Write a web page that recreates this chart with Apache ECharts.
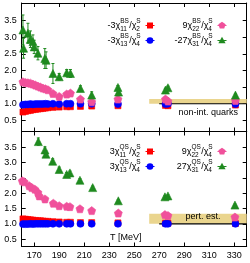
<!DOCTYPE html>
<html><head><meta charset="utf-8">
<script src="https://cdn.jsdelivr.net/npm/echarts@6/dist/echarts.min.js"></script>
<style>html,body{margin:0;padding:0;background:#fff}#c{width:250px;height:263px}</style>
</head><body><div id="c"></div>
<script>
// ---------- data ----------
const xTicks = [170,190,210,230,250,270,290,310,330];
const yTicks = [0.5,1.0,1.5,2.0,2.5,3.0,3.5];

// top panel (BS)
const bsT = [161,163,165,167,169,171,173,175,177,179,181,185,190,196,199,207,216,237,275,277,331];
const bsRed  = [0.75,0.77,0.79,0.80,0.82,0.83,0.84,0.85,0.86,0.87,0.88,0.89,0.90,0.91,0.91,0.92,0.93,0.94,0.95,0.94,0.96];
const bsBlue = [0.97,0.98,0.98,0.99,0.98,0.99,0.99,0.99,0.99,1.00,0.99,1.00,0.99,1.00,1.00,1.00,1.00,0.99,0.99,1.00,0.99];
const bsPink = [1.66,1.64,1.63,1.62,1.59,1.56,1.53,1.50,1.47,1.45,1.42,1.31,1.22,1.29,1.32,1.14,1.06,1.14,1.14,1.08,1.10];
const bsPinkErr = [0.06,0.06,0.05,0.05,0.05,0.05,0.06,0.08,0.05,0.05,0.05,0.04,0.04,0.04,0.04,0.03,0.03,0.03,0.03,0.03,0.03];
const bsGreenT = [161,161.5,165,167,169,170,173,178.5,179.5,185,190,196,199,207,216,237,237.5,275,277,331];
const bsGreen  = [3.22,2.67,3.12,2.94,2.87,2.71,2.52,2.36,2.31,1.91,1.81,1.93,1.91,1.46,1.26,1.49,1.35,1.41,1.48,1.26];
const bsGreenErr = [0.45,0.30,0.30,0.25,0.20,0.20,0.20,0.30,0.25,0.30,0.10,0.10,0.12,0.08,0.10,0.06,0.05,0.05,0.05,0.04];
const bsBand = [262, 340, 1.0, 1.14];
const bsLine = [[270, 1.0], [340, 1.0]];

// bottom panel (QS)
const qsT = [161,163,165,167,169,171,173,175,177,179,181,185,190,196,199,207,216,237,275,277,331];
const qsRed  = [1.16,1.15,1.14,1.13,1.12,1.11,1.10,1.10,1.09,1.08,1.08,1.07,1.06,1.05,1.05,1.04,1.04,1.03,1.02,1.02,1.01];
const qsBlue = [0.99,0.99,0.99,1.00,0.99,1.00,1.00,1.00,1.00,1.00,1.00,1.00,1.00,1.00,1.00,1.00,1.00,1.00,1.00,1.00,1.00];
const qsPinkT = [160.5,162,166,168,170.5,173,174,178.6,185.3,190,196,198.6,206.6,216,237.3,274.6,277,330.6];
const qsPink  = [2.40,2.37,2.24,2.18,2.13,2.02,1.91,1.81,1.67,1.59,1.57,1.56,1.49,1.43,1.35,1.30,1.27,1.22];
const qsPinkErr = [0.04,0.04,0.04,0.04,0.04,0.04,0.04,0.03,0.03,0.03,0.03,0.03,0.03,0.03,0.03,0.03,0.03,0.03];
const qsGreenT = [173.3,178.6,179.4,184.8,190,196,198.6,206.6,216.8,237.3,274.6,277,330.6];
const qsGreen  = [3.68,3.41,3.27,3.04,2.77,2.61,2.66,2.42,2.18,1.75,1.88,1.91,1.61];
const qsGreenErr = [0.12,0.10,0.10,0.08,0.08,0.06,0.06,0.05,0.05,0.04,0.03,0.03,0.03];
const qsBand = [262, 340, 1.0, 1.33];
const qsLine = [[270, 1.0], [340, 1.0]];

const xLabel = 'T [MeV]';
const bsText = 'non-int. quarks';
const qsText = 'pert. est.';

// ---------- styles ----------
const RED = '#ff0000', BLUE = '#0000ff', PINK = '#f0509b', GREEN = '#1f8a1f';
const BAND = '#ead58e';
const FONT = 'Liberation Sans';
const PENT = 'path://M0,-1 L0.951,-0.309 L0.588,0.809 L-0.588,0.809 L-0.951,-0.309 Z';
const TRI = 'path://M0,-1 L0.95,0.7 L-0.95,0.7 Z';

const zip = (a, b) => a.map((v, i) => [v, b[i]]);
const zip3 = (a, b, c) => a.map((v, i) => [v, b[i], c[i]]);

const chart = echarts.init(document.getElementById('c'), null, {renderer: 'canvas'});

function xAx(grid, pos, showLabel) {
  return {
    type: 'value', gridIndex: grid, position: pos, min: 160, max: 340,
    axisLine: {show: true, onZero: false, lineStyle: {color: '#000', width: 1}},
    axisTick: {show: true, inside: true, length: 4, customValues: xTicks, lineStyle: {color: '#000'}},
    axisLabel: {show: showLabel, customValues: xTicks, fontFamily: FONT, fontSize: 9, color: '#000', margin: 5},
    splitLine: {show: false}
  };
}
function yAx(grid, pos, showLabel, mn, mx) {
  return {
    type: 'value', gridIndex: grid, position: pos, min: mn, max: mx,
    axisLine: {show: true, onZero: false, lineStyle: {color: '#000', width: 1}},
    axisTick: {show: true, inside: true, length: 4, customValues: yTicks, lineStyle: {color: '#000'}},
    axisLabel: {show: showLabel, customValues: yTicks, fontFamily: FONT, fontSize: 9, color: '#000', margin: 5,
      formatter: v => v.toFixed(1)},
    splitLine: {show: false}
  };
}

function scat(xi, data, color, symbol, size, z) {
  return {type: 'scatter', xAxisIndex: xi, yAxisIndex: xi, data, symbol, symbolSize: size,
    itemStyle: {color, borderColor: color, borderWidth: 0.6, opacity: 1}, z: z || 3, silent: true};
}
function errs(xi, data, color) {
  return {type: 'custom', xAxisIndex: xi, yAxisIndex: xi, data, z: 2, silent: true, clip: true,
    renderItem: (p, api) => {
      const x = api.value(0), y = api.value(1), e = api.value(2);
      const a = api.coord([x, y - e]), b = api.coord([x, y + e]);
      const st = {stroke: color, lineWidth: 1};
      return {type: 'group', children: [
        {type: 'line', shape: {x1: a[0], y1: a[1], x2: b[0], y2: b[1]}, style: st},
        {type: 'line', shape: {x1: a[0] - 1.5, y1: a[1], x2: a[0] + 1.5, y2: a[1]}, style: st},
        {type: 'line', shape: {x1: b[0] - 1.5, y1: b[1], x2: b[0] + 1.5, y2: b[1]}, style: st}
      ]};
    }};
}
function band(xi, b) {
  return {type: 'custom', xAxisIndex: xi, yAxisIndex: xi, data: [b], z: 1, silent: true, clip: true,
    renderItem: (p, api) => {
      const a = api.coord([api.value(0), api.value(3)]), c = api.coord([api.value(1), api.value(2)]);
      return {type: 'rect', shape: {x: a[0], y: a[1], width: c[0] - a[0], height: c[1] - a[1]},
        style: {fill: BAND}};
    }};
}
function hline(xi, d) {
  return {type: 'line', xAxisIndex: xi, yAxisIndex: xi, data: d, symbol: 'none', z: 2, silent: true,
    lineStyle: {color: '#000', width: 1.2}};
}

// xAxis indices: 0 bottom grid0, 1 bottom grid1, 2 top grid0, 3 top grid1
const option = {
  animation: false,
  backgroundColor: '#fff',
  grid: [
    {left: 21.7, right: 3.3, top: 3, height: 128.5},
    {left: 21.7, right: 3.3, top: 131.5, height: 115}
  ],
  xAxis: [xAx(0, 'bottom', false), xAx(1, 'bottom', true), xAx(0, 'top', false), xAx(1, 'top', false)],
  yAxis: [yAx(0, 'left', true, 0.165, 4.03), yAx(1, 'left', true, 0.26, 4.01),
          yAx(0, 'right', false, 0.165, 4.03), yAx(1, 'right', false, 0.26, 4.01)],
  series: [
    band(0, bsBand), hline(0, bsLine),
    scat(0, zip(bsT, bsRed), RED, 'rect', 6, 3),
    scat(0, zip(bsT, bsBlue), BLUE, 'circle', 7, 4),
    errs(0, zip3(bsT, bsPink, bsPinkErr), PINK),
    scat(0, zip(bsT, bsPink), PINK, PENT, 8, 5),
    errs(0, zip3(bsGreenT, bsGreen, bsGreenErr), GREEN),
    scat(0, zip(bsGreenT, bsGreen), GREEN, TRI, 8, 6),

    band(1, qsBand), hline(1, qsLine),
    scat(1, zip(qsT, qsRed), RED, 'rect', 6, 3),
    scat(1, zip(qsT, qsBlue), BLUE, 'circle', 7, 4),
    errs(1, zip3(qsPinkT, qsPink, qsPinkErr), PINK),
    scat(1, zip(qsPinkT, qsPink), PINK, PENT, 8, 5),
    errs(1, zip3(qsGreenT, qsGreen, qsGreenErr), GREEN),
    scat(1, zip(qsGreenT, qsGreen), GREEN, TRI, 8, 6)
  ],
  graphic: []
};

// ---------- legend / text (layout) ----------
const cv = document.createElement('canvas').getContext('2d');
const MAIN = 9, SMALL = 6.5;
function tw(t, s) { cv.font = s + 'px "' + FONT + '"'; return cv.measureText(t).width; }
function label(prefix, sup1, sub1, sup2, sub2, rightX, y) {
  const parts = [];
  const w1 = tw(prefix + 'χ', MAIN), w2 = Math.max(tw(sup1, SMALL), tw(sub1, SMALL));
  const w3 = tw('/χ', MAIN), w4 = Math.max(tw(sup2, SMALL), tw(sub2, SMALL));
  let x = rightX - (w1 + w2 + w3 + w4 + 0.6);
  const txt = (t, xx, yy, s) => ({type: 'text', x: xx, y: yy, z: 50, silent: true,
    style: {text: t, fontFamily: FONT, fontSize: s, fill: '#000', textAlign: 'left', textVerticalAlign: 'middle'}});
  parts.push(txt(prefix + 'χ', x, y, MAIN)); x += w1;
  parts.push(txt(sup1, x, y - 4.5, SMALL)); parts.push(txt(sub1, x, y + 3, SMALL)); x += w2 + 0.3;
  parts.push(txt('/χ', x, y, MAIN)); x += w3;
  parts.push(txt(sup2, x, y - 4.5, SMALL)); parts.push(txt(sub2, x, y + 3, SMALL));
  return parts;
}
function mark(kind, color, cx, cy) {
  const out = [{type: 'line', z: 50, silent: true, shape: {x1: cx - 4.5, y1: cy, x2: cx + 4.5, y2: cy},
    style: {stroke: color, lineWidth: 1}}];
  let s;
  if (kind === 'rect') s = {type: 'rect', shape: {x: cx - 3, y: cy - 3, width: 6, height: 6}};
  else if (kind === 'circle') s = {type: 'circle', shape: {cx, cy, r: 3.3}};
  else if (kind === 'pent') s = {type: 'polygon', shape: {points: [0,1,2,3,4].map(k => {
      const a = -Math.PI / 2 + k * 2 * Math.PI / 5; return [cx + 3.8 * Math.cos(a), cy + 3.8 * Math.sin(a)];})}};
  else s = {type: 'polygon', shape: {points: [[cx, cy - 3.8], [cx + 3.6, cy + 2.7], [cx - 3.6, cy + 2.7]]}};
  s.z = 51; s.silent = true; s.style = {fill: color};
  out.push(s);
  return out;
}
const g = option.graphic;
g.push(...label('-3', 'BS', '11', 'S', '2', 141, 26), ...mark('rect', RED, 150, 25.5));
g.push(...label('-3', 'BS', '13', 'S', '4', 141, 41), ...mark('circle', BLUE, 150, 40.5));
g.push(...label('9', 'BS', '22', 'S', '4', 213, 26), ...mark('pent', PINK, 222, 25.5));
g.push(...label('-27', 'BS', '31', 'S', '4', 213, 41), ...mark('tri', GREEN, 222, 40.5));
g.push(...label('3', 'QS', '11', 'S', '2', 141, 152), ...mark('rect', RED, 150, 151.5));
g.push(...label('3', 'QS', '13', 'S', '4', 141, 167), ...mark('circle', BLUE, 150, 166.5));
g.push(...label('9', 'QS', '22', 'S', '4', 213, 152), ...mark('pent', PINK, 222, 151.5));
g.push(...label('27', 'QS', '31', 'S', '4', 213, 167), ...mark('tri', GREEN, 222, 166.5));
const plain = (t, x, y, align) => ({type: 'text', x, y, z: 50, silent: true,
  style: {text: t, fontFamily: FONT, fontSize: 9, fill: '#000', textAlign: align, textVerticalAlign: 'middle'}});
g.push(plain(bsText, 238, 113, 'right'));
g.push(plain(qsText, 203, 217, 'center'));
g.push(plain(xLabel, 110, 238, 'left'));

chart.setOption(option);
</script></body></html>
